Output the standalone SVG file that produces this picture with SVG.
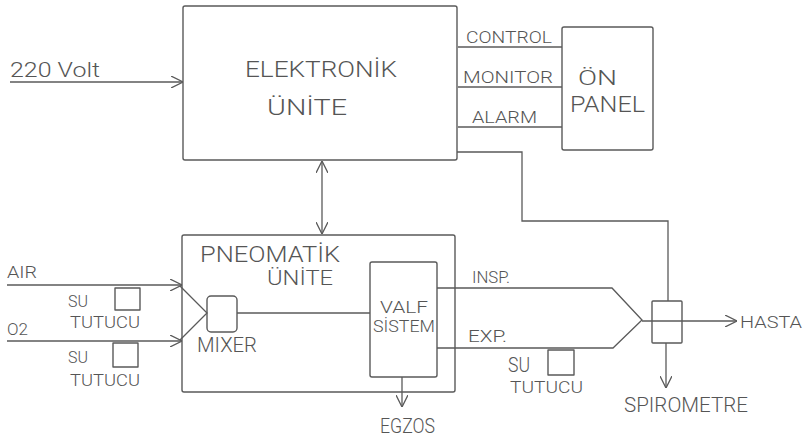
<svg xmlns="http://www.w3.org/2000/svg" width="808" height="437" viewBox="0 0 808 437">
<defs>
<style>
.b{fill:none;stroke:#5a5a5a;stroke-width:1.4;stroke-linejoin:round}
.c{fill:none;stroke:#5a5a5a;stroke-width:1.3}
text{font-family:Roboto,"Liberation Sans","DejaVu Sans",sans-serif;font-weight:300;fill:#555;}
.s{font-size:17px}
.m{font-size:20px}
.l{font-size:22px}
</style>
<marker id="ah" viewBox="0 0 12 12" refX="12" refY="6" markerWidth="12" markerHeight="12" markerUnits="userSpaceOnUse" orient="auto-start-reverse">
<path d="M0,0 L12,6 L0,12" fill="none" stroke="#5a5a5a" stroke-width="1.3"/>
</marker>
</defs>
<rect width="808" height="437" fill="#fff"/>

<g id="elektronik">
<rect class="b" x="183" y="6" width="274" height="154" rx="2"/>
<text class="l" x="245" y="77" textLength="152" lengthAdjust="spacingAndGlyphs">ELEKTRONİK</text>
<text class="l" x="267" y="115" textLength="80" lengthAdjust="spacingAndGlyphs">ÜNİTE</text>
</g>

<g id="onpanel">
<rect class="b" x="562" y="27" width="91" height="123" rx="2"/>
<text class="m" x="578" y="85" textLength="39" lengthAdjust="spacingAndGlyphs">ÖN</text>
<text class="l" x="570" y="112" textLength="75" lengthAdjust="spacingAndGlyphs">PANEL</text>
</g>

<g id="pneomatik">
<rect class="b" x="182" y="235" width="273" height="157" rx="2"/>
<text class="l" x="200" y="262" textLength="140" lengthAdjust="spacingAndGlyphs">PNEOMATİK</text>
<text class="m" x="267" y="285" textLength="66" lengthAdjust="spacingAndGlyphs">ÜNİTE</text>
</g>

<g id="mixer">
<rect class="b" x="207" y="296" width="30" height="36" rx="4"/>
<text class="m" x="197" y="352" textLength="60" lengthAdjust="spacingAndGlyphs">MIXER</text>
</g>

<g id="valf">
<rect class="b" x="370" y="262" width="67" height="115" rx="2"/>
<text class="s" x="380" y="313" textLength="48" lengthAdjust="spacingAndGlyphs">VALF</text>
<text class="s" x="373" y="332" textLength="62" lengthAdjust="spacingAndGlyphs">SİSTEM</text>
</g>

<g id="sututucu1">
<rect class="b" x="115" y="288" width="25" height="22"/>
<text class="s" x="68" y="307" textLength="20" lengthAdjust="spacingAndGlyphs">SU</text>
<text class="s" x="70" y="328" textLength="70" lengthAdjust="spacingAndGlyphs">TUTUCU</text>
</g>

<g id="sututucu2">
<rect class="b" x="113" y="343" width="25" height="24"/>
<text class="s" x="68" y="363" textLength="20" lengthAdjust="spacingAndGlyphs">SU</text>
<text class="s" x="70" y="386" textLength="70" lengthAdjust="spacingAndGlyphs">TUTUCU</text>
</g>

<g id="sututucu3">
<rect class="b" x="548" y="350" width="26" height="25"/>
<text class="m" x="508" y="372" textLength="22" lengthAdjust="spacingAndGlyphs">SU</text>
<text class="s" x="510" y="393" textLength="73" lengthAdjust="spacingAndGlyphs">TUTUCU</text>
</g>

<g id="spirometre">
<rect class="b" x="652" y="301" width="30" height="42" rx="1"/>
<text class="m" x="624" y="412" textLength="124" lengthAdjust="spacingAndGlyphs">SPIROMETRE</text>
</g>

<g id="labels">
<text class="m" x="10" y="77" textLength="90" lengthAdjust="spacingAndGlyphs">220 Volt</text>
<text class="s" x="466" y="43" textLength="86" lengthAdjust="spacingAndGlyphs">CONTROL</text>
<text class="s" x="463" y="83" textLength="90" lengthAdjust="spacingAndGlyphs">MONITOR</text>
<text class="s" x="472" y="123" textLength="65" lengthAdjust="spacingAndGlyphs">ALARM</text>
<text class="s" x="7" y="278" textLength="30" lengthAdjust="spacingAndGlyphs">AIR</text>
<text class="s" x="7" y="335" textLength="21" lengthAdjust="spacingAndGlyphs">O2</text>
<text class="s" x="472" y="283" textLength="38" lengthAdjust="spacingAndGlyphs">INSP.</text>
<text class="s" x="468" y="342" textLength="39" lengthAdjust="spacingAndGlyphs">EXP.</text>
<text class="s" x="740" y="328" textLength="62" lengthAdjust="spacingAndGlyphs">HASTA</text>
<text class="m" x="380" y="433" textLength="55" lengthAdjust="spacingAndGlyphs">EGZOS</text>
</g>

<g id="connectors">
<line class="c" x1="10" y1="82" x2="183" y2="82" marker-end="url(#ah)"/>
<line class="c" x1="458" y1="47" x2="562" y2="47"/>
<line class="c" x1="458" y1="87" x2="562" y2="87"/>
<line class="c" x1="458" y1="127" x2="562" y2="127"/>
<polyline class="c" points="457,152 522,152 522,221 668,221 668,301"/>
<line class="c" x1="322" y1="161" x2="322" y2="234" marker-start="url(#ah)" marker-end="url(#ah)"/>
<line class="c" x1="7" y1="285" x2="182" y2="285" marker-end="url(#ah)"/>
<line class="c" x1="7" y1="341" x2="182" y2="341" marker-end="url(#ah)"/>
<polyline class="c" points="180,286 207,313 180,340"/>
<line class="c" x1="237" y1="313" x2="370" y2="313"/>
<polyline class="c" points="437,288 612,288 642,320 613,348 437,348"/>
<line class="c" x1="642" y1="321" x2="737" y2="321" marker-end="url(#ah)"/>
<line class="c" x1="666" y1="343" x2="666" y2="388" marker-end="url(#ah)"/>
<line class="c" x1="402" y1="377" x2="402" y2="407" marker-end="url(#ah)"/>
</g>
</svg>
